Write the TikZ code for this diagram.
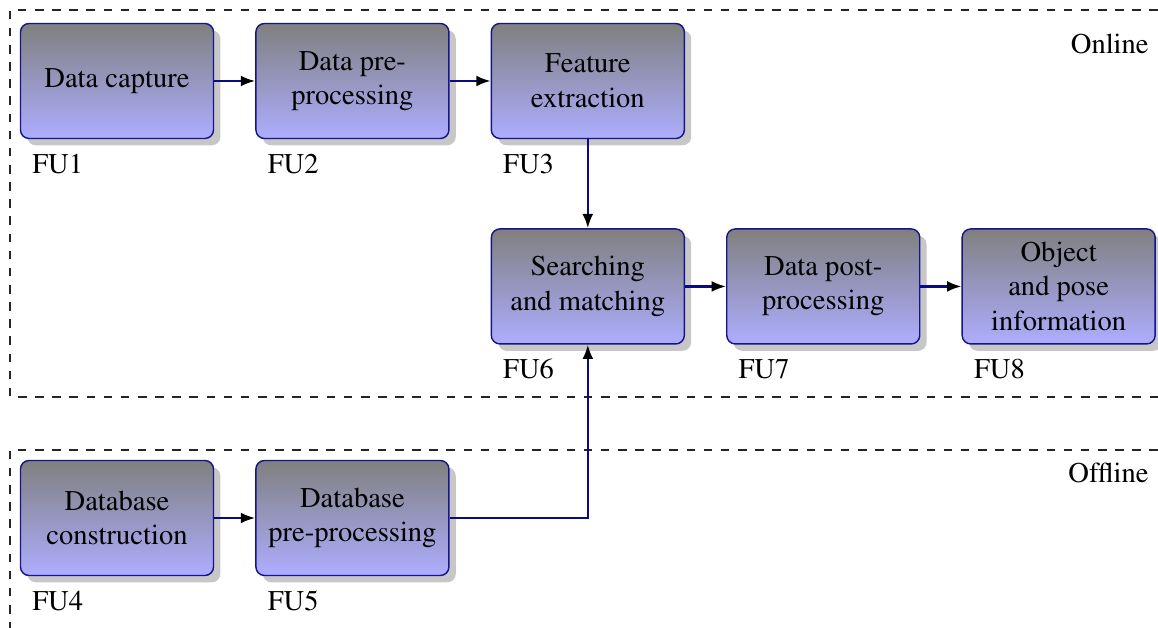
\documentclass[tikz,border=0pt]{standalone}
\usepackage[T1]{fontenc}
\usepackage{times}
\usetikzlibrary{positioning,shadows,arrows.meta}

\definecolor{fuborder}{RGB}{20,20,140}
\definecolor{fuline}{RGB}{10,10,130}

\tikzset{
    fubox/.style={draw=fuborder, line width=0.5pt, rounded corners=3pt,
        top color=black!50, bottom color=blue!32,
        minimum width=2.374cm, minimum height=1.4145cm, align=center,
        drop shadow={fill=black!22, opacity=1, shadow xshift=2.4pt, shadow yshift=-2.4pt}},
    fulabel/.style={anchor=north west, inner sep=0pt, xshift=4.2pt, yshift=-5pt},
    fuarrow/.style={draw=fuline, line width=0.8pt, -{Latex[black,length=5pt,width=3.8pt]}},
    frame/.style={dashed, thin, black!85}
}

\begin{document}
\begin{tikzpicture}[node distance=1.095cm and 0.504cm]
    \useasboundingbox (0,0) rectangle (14.243,-7.724);
    %frames
    \draw[frame] (14.243,-0.123) -- (0.123,-0.123) -- (0.123,-4.883) -- (14.243,-4.883);
    \draw[frame] (14.243,-5.535) -- (0.123,-5.535) -- (0.123,-7.724);
    \node[anchor=base east, inner sep=0pt] (online) at (14.135,-0.652) {Online};
    \node[anchor=base east, inner sep=0pt] (offline) at (14.135,-5.93) {Offline};
    %online units
    \node[fubox] (fu1) at (1.439,-0.996) {Data capture};
    \node[fubox, right=of fu1] (fu2) {Data pre-\\processing};
    \node[fubox, right=of fu2] (fu3) {Feature\\extraction};
    \node[fubox, below=of fu3] (fu6) {Searching\\and matching};
    \node[fubox, right=of fu6] (fu7) {Data post-\\processing};
    \node[fubox, right=of fu7] (fu8) {Object\\and pose\\information};
    %offline units
    \node[fubox] (fu4) at (1.439,-6.371) {Database\\construction};
    \node[fubox, right=of fu4] (fu5) {Database\\pre-processing};
    %labels
    \node[fulabel] (l1) at (fu1.south west) {FU1};
    \node[fulabel] (l2) at (fu2.south west) {FU2};
    \node[fulabel] (l3) at (fu3.south west) {FU3};
    \node[fulabel] (l4) at (fu4.south west) {FU4};
    \node[fulabel] (l5) at (fu5.south west) {FU5};
    \node[fulabel] (l6) at (fu6.south west) {FU6};
    \node[fulabel] (l7) at (fu7.south west) {FU7};
    \node[fulabel] (l8) at (fu8.south west) {FU8};
    %arrows
    \draw[fuarrow] (fu1) -- (fu2);
    \draw[fuarrow] (fu2) -- (fu3);
    \draw[fuarrow] (fu3) -- (fu6);
    \draw[fuarrow] (fu6) -- (fu7);
    \draw[fuarrow] (fu7) -- (fu8);
    \draw[fuarrow] (fu4) -- (fu5);
    \draw[fuarrow] (fu5.east) -| (fu6.south);
\end{tikzpicture}
\end{document}
